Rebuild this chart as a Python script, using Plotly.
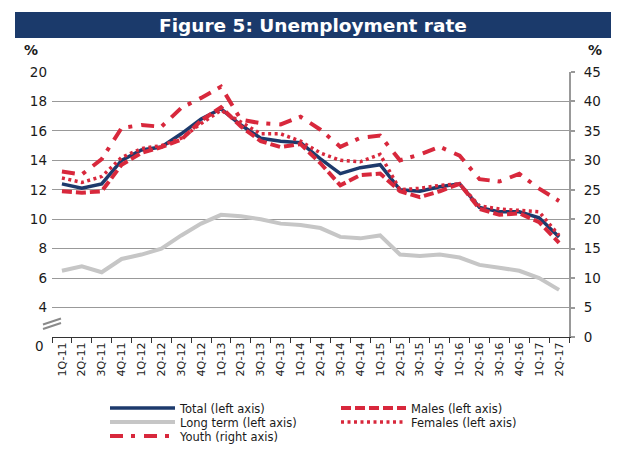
import plotly.graph_objects as go

quarters = ["1Q-11", "2Q-11", "3Q-11", "4Q-11", "1Q-12", "2Q-12", "3Q-12", "4Q-12",
            "1Q-13", "2Q-13", "3Q-13", "4Q-13", "1Q-14", "2Q-14", "3Q-14", "4Q-14",
            "1Q-15", "2Q-15", "3Q-15", "4Q-15", "1Q-16", "2Q-16", "3Q-16", "4Q-16",
            "1Q-17", "2Q-17"]

total = [12.4, 12.1, 12.4, 14.0, 14.7, 14.9, 15.8, 16.8,
         17.5, 16.4, 15.5, 15.3, 15.2, 14.1, 13.1, 13.5,
         13.7, 12.0, 11.9, 12.2, 12.4, 10.8, 10.5, 10.5,
         10.1, 8.8]
males = [11.9, 11.8, 11.9, 13.7, 14.5, 14.9, 15.4, 16.7,
         17.6, 16.3, 15.3, 14.9, 15.1, 13.8, 12.3, 13.0,
         13.1, 11.9, 11.5, 11.9, 12.4, 10.7, 10.3, 10.4,
         9.8, 8.4]
females = [12.8, 12.5, 12.9, 14.2, 14.8, 15.0, 15.5, 16.5,
           17.4, 16.6, 15.8, 15.8, 15.3, 14.5, 14.0, 13.9,
           14.4, 12.0, 12.1, 12.3, 12.4, 10.9, 10.7, 10.6,
           10.5, 8.9]
long_term = [6.5, 6.8, 6.4, 7.3, 7.6, 8.0, 8.9, 9.7,
             10.3, 10.2, 10.0, 9.7, 9.6, 9.4, 8.8, 8.7,
             8.9, 7.6, 7.5, 7.6, 7.4, 6.9, 6.7, 6.5,
             6.0, 5.2]
youth = [28.1, 27.6, 30.2, 35.5, 36.0, 35.7, 38.9, 40.6,
         42.5, 36.9, 36.3, 36.1, 37.4, 35.2, 32.3, 33.8,
         34.2, 30.0, 31.0, 32.3, 30.8, 26.8, 26.4, 27.7,
         25.2, 23.1]

left_ticks = [2, 4, 6, 8, 10, 12, 14, 16, 18, 20]
left_ticktext = ["", "4", "6", "8", "10", "12", "14", "16", "18", "20"]

NAVY = "#1d3a6c"
RED = "#d8283c"
GRAY = "#c6c6c6"
FONT = "DejaVu Sans"

# plot area in pixels
L, R, T, B = 52, 569, 72, 337
PW, PH = R - L, B - T


def px(x):
    return (x - L) / PW


def py(y):
    return (B - y) / PH


fig = go.Figure()
fig.add_trace(go.Scatter(x=quarters, y=total, name="Total (left axis)", mode="lines",
                         legend="legend",
                         line=dict(color=NAVY, width=3.5)))
fig.add_trace(go.Scatter(x=quarters, y=males, name="Males (left axis)", mode="lines",
                         legend="legend2",
                         line=dict(color=RED, width=4, dash="10px,4px")))
fig.add_trace(go.Scatter(x=quarters, y=long_term, name="Long term (left axis)", mode="lines",
                         legend="legend3",
                         line=dict(color=GRAY, width=4)))
fig.add_trace(go.Scatter(x=quarters, y=females, name="Females (left axis)", mode="lines",
                         legend="legend4",
                         line=dict(color=RED, width=3.5, dash="3px,3.5px")))
fig.add_trace(go.Scatter(x=quarters, y=youth, name="Youth (right axis)", mode="lines",
                         yaxis="y2", legend="legend5",
                         line=dict(color=RED, width=4, dash="13px,8px,4px,9px")))


def leg(xpix, ypix):
    return dict(x=px(xpix), y=py(ypix), xanchor="left", yanchor="middle",
                orientation="v", itemwidth=65,
                font=dict(size=11.5, family=FONT, color="#1a1a1a"),
                bgcolor="rgba(0,0,0,0)")


fig.update_layout(
    width=624, height=453,
    margin=dict(l=L, r=624 - R, t=T, b=453 - B, autoexpand=False),
    paper_bgcolor="white", plot_bgcolor="white",
    font=dict(family=FONT, color="#1a1a1a"),
    showlegend=True,
    legend=leg(105, 408),
    legend2=leg(336, 408),
    legend3=leg(105, 422),
    legend4=leg(336, 422),
    legend5=leg(105, 436),
    xaxis=dict(type="category", tickangle=-90, tickson="boundaries",
               ticks="outside", ticklen=5, tickcolor="#333", tickwidth=1,
               showline=True, linecolor="#333", linewidth=1.2,
               showgrid=False, tickfont=dict(size=11), range=[-0.5, 25.5]),
    yaxis=dict(range=[2, 20], tickvals=left_ticks, ticktext=left_ticktext,
               showgrid=True, gridcolor="#999999", gridwidth=1.3,
               zeroline=False, showline=False, ticks="",
               tickfont=dict(size=13.5), ticklabelstandoff=4),
    yaxis2=dict(range=[0, 45], dtick=5, overlaying="y", side="right",
                showgrid=False, zeroline=False, showline=True,
                linecolor="#999999", linewidth=2, ticks="outside", ticklen=4,
                tickcolor="#999999", tickwidth=1.5, tickfont=dict(size=13.5),
                ticklabelstandoff=6),
)

# Title bar
fig.add_shape(type="rect", xref="paper", yref="paper", layer="below",
              x0=px(15), x1=px(611), y0=py(38), y1=py(12),
              fillcolor="#1b3a6b", line=dict(width=0))
fig.add_annotation(text="<b>Figure 5: Unemployment rate</b>", xref="paper", yref="paper",
                   x=px(313), y=py(25), showarrow=False,
                   font=dict(size=18.5, color="white", family=FONT),
                   xanchor="center", yanchor="middle")
# Axis unit labels
for xp in (31, 595):
    fig.add_annotation(text="<b>%</b>", xref="paper", yref="paper",
                       x=px(xp), y=py(50), showarrow=False,
                       font=dict(size=14, family=FONT, color="#1a1a1a"),
                       xanchor="center", yanchor="middle")
# Left axis zero label (broken axis)
fig.add_annotation(text="0", xref="paper", yref="paper",
                   x=0, y=py(346), showarrow=False, xshift=-6,
                   font=dict(size=13.5, family=FONT, color="#1a1a1a"),
                   xanchor="right", yanchor="middle")
# Axis break marks
for dy in (0, 4.5):
    fig.add_shape(type="line", xref="paper", yref="paper",
                  x0=px(43), x1=px(61),
                  y0=py(329 - dy), y1=py(323 - dy),
                  line=dict(color="#8a8a8a", width=2))

fig.write_html("out.html")
